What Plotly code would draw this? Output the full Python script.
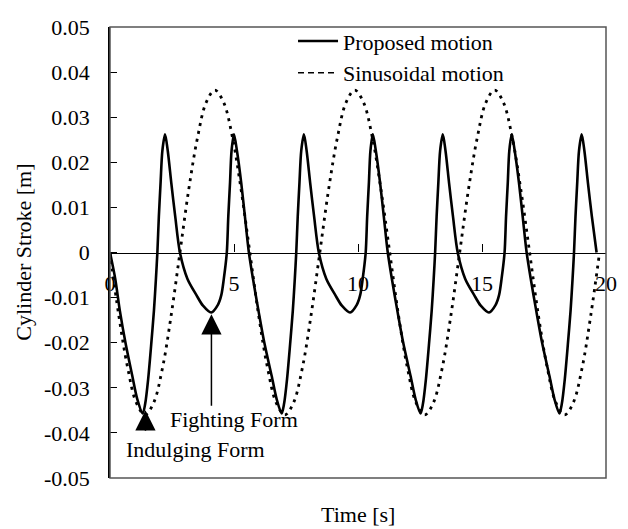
import plotly.graph_objects as go

# ---- Proposed motion (solid) ----
prop_t = [0.00, 0.21, 0.40, 0.63, 0.90, 1.10,
          1.32, 1.42, 1.54, 1.66, 1.77, 1.85, 1.91, 1.97, 2.04, 2.11, 2.22, 2.33, 2.47, 2.63, 2.82,
          3.12, 3.48, 3.75, 4.08, 4.35, 4.49, 4.59, 4.71, 4.77, 4.84, 4.90, 5.00, 5.12, 5.29, 5.44,
          5.60, 5.77, 5.99, 6.23, 6.52, 6.72,
          6.92, 7.02, 7.14, 7.26, 7.37, 7.45, 7.51, 7.57, 7.64, 7.71, 7.82, 7.93, 8.07, 8.23, 8.42,
          8.72, 9.08, 9.35, 9.68, 9.95, 10.09, 10.19, 10.31, 10.37, 10.44, 10.50, 10.60, 10.72, 10.89,
          11.04, 11.20, 11.37, 11.59, 11.83, 12.12, 12.32,
          12.52, 12.62, 12.74, 12.86, 12.97, 13.05, 13.11, 13.17, 13.24, 13.31, 13.42, 13.53, 13.67,
          13.83, 14.02, 14.32, 14.68, 14.95, 15.28, 15.55, 15.69, 15.79, 15.91, 15.97, 16.04, 16.10,
          16.20, 16.32, 16.49, 16.64, 16.80, 16.97, 17.19, 17.43, 17.72, 17.92,
          18.12, 18.22, 18.34, 18.46, 18.57, 18.65, 18.71, 18.77, 18.84, 18.91, 19.02, 19.13, 19.27,
          19.43, 19.62]
prop_v = [0.0000, -0.0058, -0.0130, -0.0202, -0.0274, -0.0325,
          -0.0357, -0.0335, -0.0280, -0.0205, -0.0130, -0.0060, 0.0000, 0.0080, 0.0155, 0.0225, 0.0262, 0.0225, 0.0155, 0.0080, 0.0000,
          -0.0058, -0.0094, -0.0118, -0.0133, -0.0116, -0.0094, -0.0058, 0.0000, 0.0080, 0.0155, 0.0225, 0.0262, 0.0225, 0.0155, 0.0080,
          0.0000, -0.0060, -0.0130, -0.0202, -0.0274, -0.0325,
          -0.0357, -0.0335, -0.0280, -0.0205, -0.0130, -0.0060, 0.0000, 0.0080, 0.0155, 0.0225, 0.0262, 0.0225, 0.0155, 0.0080, 0.0000,
          -0.0058, -0.0094, -0.0118, -0.0133, -0.0116, -0.0094, -0.0058, 0.0000, 0.0080, 0.0155, 0.0225, 0.0262, 0.0225, 0.0155,
          0.0080, 0.0000, -0.0060, -0.0130, -0.0202, -0.0274, -0.0325,
          -0.0357, -0.0335, -0.0280, -0.0205, -0.0130, -0.0060, 0.0000, 0.0080, 0.0155, 0.0225, 0.0262, 0.0225, 0.0155,
          0.0080, 0.0000, -0.0058, -0.0094, -0.0118, -0.0133, -0.0116, -0.0094, -0.0058, 0.0000, 0.0080, 0.0155, 0.0225,
          0.0262, 0.0225, 0.0155, 0.0080, 0.0000, -0.0060, -0.0130, -0.0202, -0.0274, -0.0325,
          -0.0357, -0.0335, -0.0280, -0.0205, -0.0130, -0.0060, 0.0000, 0.0080, 0.0155, 0.0225, 0.0262, 0.0225, 0.0155,
          0.0080, 0.0000]

# ---- Sinusoidal motion (dotted) ----
sin_t = [0.00, 0.35, 0.71, 1.06, 1.41, 1.76, 2.12, 2.47, 2.82, 3.17, 3.53, 3.88, 4.23, 4.58, 4.94, 5.29,
         5.64, 5.99, 6.35, 6.70, 7.05, 7.40, 7.76, 8.11, 8.46, 8.81, 9.17, 9.52, 9.87, 10.22, 10.58, 10.93,
         11.28, 11.63, 11.99, 12.34, 12.69, 13.04, 13.40, 13.75, 14.10, 14.45, 14.81, 15.16, 15.51, 15.86, 16.22, 16.57,
         16.92, 17.27, 17.63, 17.98, 18.33, 18.68, 19.04, 19.39, 19.74]
sin_v = [0.0, -0.0138, -0.0255, -0.0333, -0.0360, -0.0333, -0.0255, -0.0138, 0.0, 0.0138, 0.0255, 0.0333, 0.0360, 0.0333, 0.0255, 0.0138,
         0.0, -0.0138, -0.0255, -0.0333, -0.0360, -0.0333, -0.0255, -0.0138, 0.0, 0.0138, 0.0255, 0.0333, 0.0360, 0.0333, 0.0255, 0.0138,
         0.0, -0.0138, -0.0255, -0.0333, -0.0360, -0.0333, -0.0255, -0.0138, 0.0, 0.0138, 0.0255, 0.0333, 0.0360, 0.0333, 0.0255, 0.0138,
         0.0, -0.0138, -0.0255, -0.0333, -0.0360, -0.0333, -0.0255, -0.0138, 0.0]

# ---- axes ----
x_ticks = [0, 5, 10, 15, 20]
x_tick_labels = ["0", "5", "10", "15", "20"]
y_ticks = [0.05, 0.04, 0.03, 0.02, 0.01, 0.0, -0.01, -0.02, -0.03, -0.04, -0.05]
y_tick_labels = ["0.05", "0.04", "0.03", "0.02", "0.01", "0", "-0.01", "-0.02", "-0.03", "-0.04", "-0.05"]

series_names = ["Proposed motion", "Sinusoidal motion"]

# ---- annotation points (arrow tips) ----
form_labels = ["Fighting Form", "Indulging Form"]
form_t = [4.09, 1.43]
form_v = [-0.0137, -0.0350]
label_t = [5.01, 3.43]
label_v = [-0.0371, -0.0436]

FONT = "Liberation Serif"
tfont = dict(family=FONT, size=22, color="black")

fig = go.Figure()
fig.add_trace(go.Scatter(x=prop_t, y=prop_v, mode="lines", name=series_names[0],
                         line=dict(color="black", width=2.6, shape="spline", smoothing=0.8),
                         legendgroup="a"))
fig.add_trace(go.Scatter(x=sin_t, y=sin_v, mode="lines", name=series_names[1], showlegend=False,
                         line=dict(color="black", width=2.8, dash="3px,5px", shape="spline", smoothing=1.0)))
# legend entry for sinusoidal motion (dashed sample as in reference)
fig.add_trace(go.Scatter(x=[None], y=[None], mode="lines", name=series_names[1],
                         line=dict(color="black", width=1.5, dash="6px,4px"), legendgroup="b"))

annotations = []
tail = [93, 22]
for i in range(2):
    annotations.append(dict(x=form_t[i], y=form_v[i], xref="x", yref="y", text="",
                            showarrow=True, ax=0, ay=tail[i], arrowhead=2, arrowsize=2.7,
                            arrowwidth=1.5, arrowcolor="black", standoff=0))
    annotations.append(dict(x=label_t[i], y=label_v[i], xref="x", yref="y", text=form_labels[i],
                            showarrow=False, font=tfont))
annotations.append(dict(x=0.5, y=-0.082, xref="paper", yref="paper", text="Time [s]", showarrow=False,
                        xanchor="center", yanchor="middle", font=tfont))
annotations.append(dict(x=-0.175, y=0.5, xref="paper", yref="paper", text="Cylinder Stroke [m]",
                        showarrow=False, textangle=-90, xanchor="center", yanchor="middle", font=tfont))

# page body adds an 8px offset, so the figure is 8px smaller on each side
fig.update_layout(
    width=620, height=521,
    margin=dict(l=102, r=22, t=7, b=51),
    paper_bgcolor="white", plot_bgcolor="white",
    font=tfont,
    showlegend=True,
    legend=dict(x=0.369, y=1.015, xanchor="left", yanchor="top", bgcolor="rgba(0,0,0,0)",
                font=tfont, itemwidth=40, tracegroupgap=0),
    annotations=annotations,
    shapes=[dict(type="rect", xref="paper", yref="paper", x0=0, x1=1, y0=0, y1=1,
                 line=dict(color="#555555", width=1.5), layer="above")],
)
fig.update_xaxes(range=[0, 20], tickvals=x_ticks, ticktext=x_tick_labels, anchor="free", position=0.5,
                 showline=True, linecolor="black", linewidth=1.3, ticks="inside", ticklen=8,
                 tickcolor="black", tickwidth=1, showgrid=False, zeroline=False, ticklabelstandoff=11,
                 tickfont=tfont)
fig.update_yaxes(range=[-0.05, 0.05], tickvals=y_ticks, ticktext=y_tick_labels,
                 showline=True, linecolor="black", linewidth=1.5, ticks="inside", ticklen=7,
                 tickcolor="black", tickwidth=1, showgrid=False, zeroline=False, ticklabelstandoff=14,
                 tickfont=tfont)

fig.write_html("out.html")
